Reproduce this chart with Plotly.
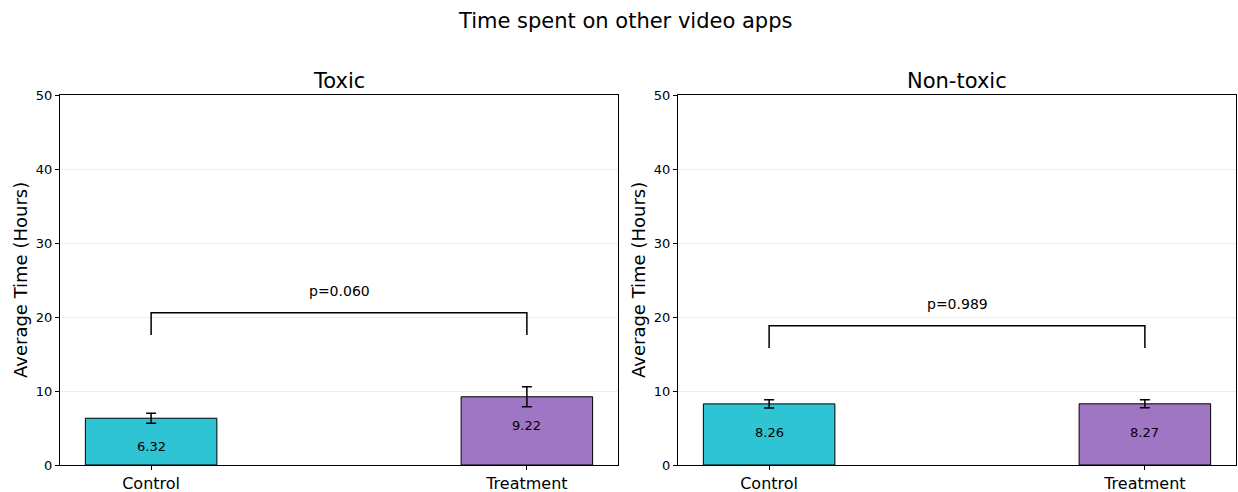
import plotly.graph_objects as go

# Data
panels = ["Toxic", "Non-toxic"]
groups = ["Control", "Treatment"]
means_toxic = [6.32, 9.22]
errs_toxic = [0.68, 1.35]
means_nontoxic = [8.26, 8.27]
errs_nontoxic = [0.55, 0.55]
pvalues = ["p=0.060", "p=0.989"]
yticks = [0, 10, 20, 30, 40, 50]
bar_colors = ["#2ec4d4", "#9f76c4"]

W, H = 1238, 492
FONT = "DejaVu Sans"


def fx(px):
    return min(px / W, 1.0)


def fy(py):
    return 1 - py / H


fig = go.Figure()

x_domains = [[fx(60), fx(618)], [fx(678), fx(1236)]]
y_domain = [fy(465), fy(95)]

data = [(means_toxic, errs_toxic), (means_nontoxic, errs_nontoxic)]

annotations = []
for k, (means, errs) in enumerate(data):
    xa = "x" if k == 0 else "x2"
    ya = "y" if k == 0 else "y2"
    xs = list(range(len(groups)))
    fig.add_trace(go.Bar(
        x=xs, y=means, width=0.35,
        marker=dict(color=bar_colors, line=dict(color="black", width=1)),
        error_y=dict(type="data", array=errs, visible=True, color="black",
                     thickness=1.5, width=5),
        xaxis=xa, yaxis=ya, showlegend=False, hoverinfo="y",
    ))
    # bracket
    top = max(m + e for m, e in zip(means, errs)) + 10
    fig.add_trace(go.Scatter(
        x=[xs[0], xs[0], xs[1], xs[1]], y=[top - 3, top, top, top - 3],
        mode="lines", line=dict(color="black", width=1.5),
        xaxis=xa, yaxis=ya, showlegend=False, hoverinfo="skip",
    ))
    annotations.append(dict(
        x=0.5, y=top + 1.6, xref=xa, yref=ya, text=pvalues[k], showarrow=False,
        xanchor="center", yanchor="bottom",
        font=dict(family=FONT, size=14, color="black"),
    ))
    for i, m in enumerate(means):
        annotations.append(dict(
            x=i, y=m - 2.6, xref=xa, yref=ya, text=f"{m:.2f}", showarrow=False,
            xanchor="center", yanchor="top",
            font=dict(family=FONT, size=13, color="black"),
        ))
    # subplot title
    annotations.append(dict(
        x=sum(x_domains[k]) / 2, y=fy(81), xref="paper", yref="paper",
        text=panels[k], showarrow=False, xanchor="center", yanchor="middle",
        font=dict(family=FONT, size=21, color="black"),
    ))
    # y-axis title
    annotations.append(dict(
        x=fx(20 if k == 0 else 638), y=sum(y_domain) / 2, xref="paper", yref="paper",
        text="Average Time (Hours)", showarrow=False, textangle=-90,
        xanchor="center", yanchor="middle",
        font=dict(family=FONT, size=18, color="black"),
    ))

annotations.append(dict(
    x=fx(625), y=fy(21), xref="paper", yref="paper",
    text="Time spent on other video apps", showarrow=False,
    xanchor="center", yanchor="middle",
    font=dict(family=FONT, size=21, color="black"),
))

axis_common = dict(showline=True, mirror=True, linecolor="black", linewidth=1,
                   ticks="outside", ticklen=4, tickcolor="black",
                   zeroline=False, automargin=False)
xfont = dict(family=FONT, size=16, color="black")
yfont = dict(family=FONT, size=13, color="black")

fig.update_layout(
    width=W, height=H,
    margin=dict(l=0, r=0, t=0, b=0, autoexpand=False),
    plot_bgcolor="white", paper_bgcolor="white",
    font=dict(family=FONT, color="black"),
    annotations=annotations,
    xaxis=dict(domain=x_domains[0], range=[-0.2425, 1.2425], tickvals=[0, 1],
               ticktext=groups, showgrid=False, anchor="y", tickfont=xfont, **axis_common),
    xaxis2=dict(domain=x_domains[1], range=[-0.2425, 1.2425], tickvals=[0, 1],
                ticktext=groups, showgrid=False, anchor="y2", tickfont=xfont, **axis_common),
    yaxis=dict(domain=y_domain, range=[0, 50], tickvals=yticks, showgrid=True,
               gridcolor="#eeeeee", gridwidth=1, anchor="x", tickfont=yfont, **axis_common),
    yaxis2=dict(domain=y_domain, range=[0, 50], tickvals=yticks, showgrid=True,
                gridcolor="#eeeeee", gridwidth=1, anchor="x2", tickfont=yfont, **axis_common),
)

fig.write_html(
    "out.html",
    config={"displayModeBar": False},
    post_script="document.body.style.margin='0';document.body.style.overflow='hidden';",
)
